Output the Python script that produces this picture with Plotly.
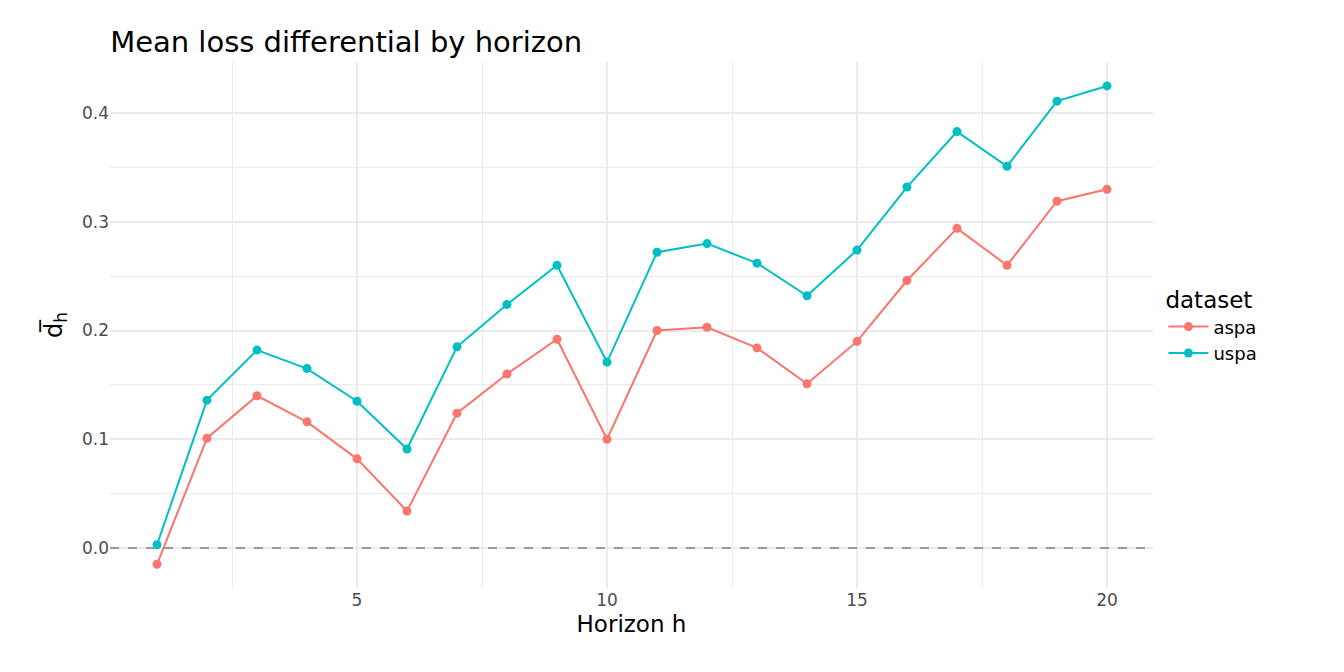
import plotly.graph_objects as go

horizon = list(range(1, 21))
aspa = [-0.015, 0.101, 0.140, 0.116, 0.082, 0.034, 0.124, 0.160, 0.192, 0.100,
        0.200, 0.203, 0.184, 0.151, 0.190, 0.246, 0.294, 0.260, 0.319, 0.330]
uspa = [0.003, 0.136, 0.182, 0.165, 0.135, 0.091, 0.185, 0.224, 0.260, 0.171,
        0.272, 0.280, 0.262, 0.232, 0.274, 0.332, 0.383, 0.351, 0.411, 0.425]

fig = go.Figure()
fig.add_hline(y=0, line=dict(color="#999999", width=2, dash="dash"))
for name, vals, col in [("aspa", aspa, "#F8766D"), ("uspa", uspa, "#00BFC4")]:
    fig.add_trace(go.Scatter(x=horizon, y=vals, name=name, mode="lines+markers",
                             line=dict(color=col, width=2), marker=dict(size=9, color=col)))

grid = "#EBEBEB"
fig.update_layout(
    width=1344, height=672, plot_bgcolor="white", paper_bgcolor="white",
    font=dict(family="DejaVu Sans", size=17, color="#4D4D4D"),
    title=dict(text="Mean loss differential by horizon", x=0.076, y=0.965,
               font=dict(size=29, color="black")),
    margin=dict(l=102, r=199, t=54, b=92),
    legend=dict(title=dict(text="dataset", font=dict(size=23, color="black")),
                font=dict(size=18, color="black"), x=1.01, y=0.5, yanchor="middle",
                tracegroupgap=8, itemwidth=40),
    xaxis=dict(range=[0.06, 20.92], tickvals=[5, 10, 15, 20], showgrid=True,
               gridcolor=grid, gridwidth=2, zeroline=False, ticks="",
               tickfont=dict(size=17),
               minor=dict(tickvals=[2.5, 7.5, 12.5, 17.5], showgrid=True, gridcolor=grid, gridwidth=1),
               title=dict(text="Horizon h", font=dict(size=23, color="black"), standoff=6)),
    yaxis=dict(range=[-0.0368, 0.447], tickvals=[0, 0.1, 0.2, 0.3, 0.4], tickformat=".1f",
               showgrid=True, gridcolor=grid, gridwidth=2, zeroline=False, ticks="",
               tickfont=dict(size=17),
               minor=dict(tickvals=[0.05, 0.15, 0.25, 0.35], showgrid=True, gridcolor=grid, gridwidth=1),
               title=dict(text="d\u0305<sub>h</sub>", font=dict(size=24, color="black"), standoff=12)),
)
fig.write_html("out.html")
